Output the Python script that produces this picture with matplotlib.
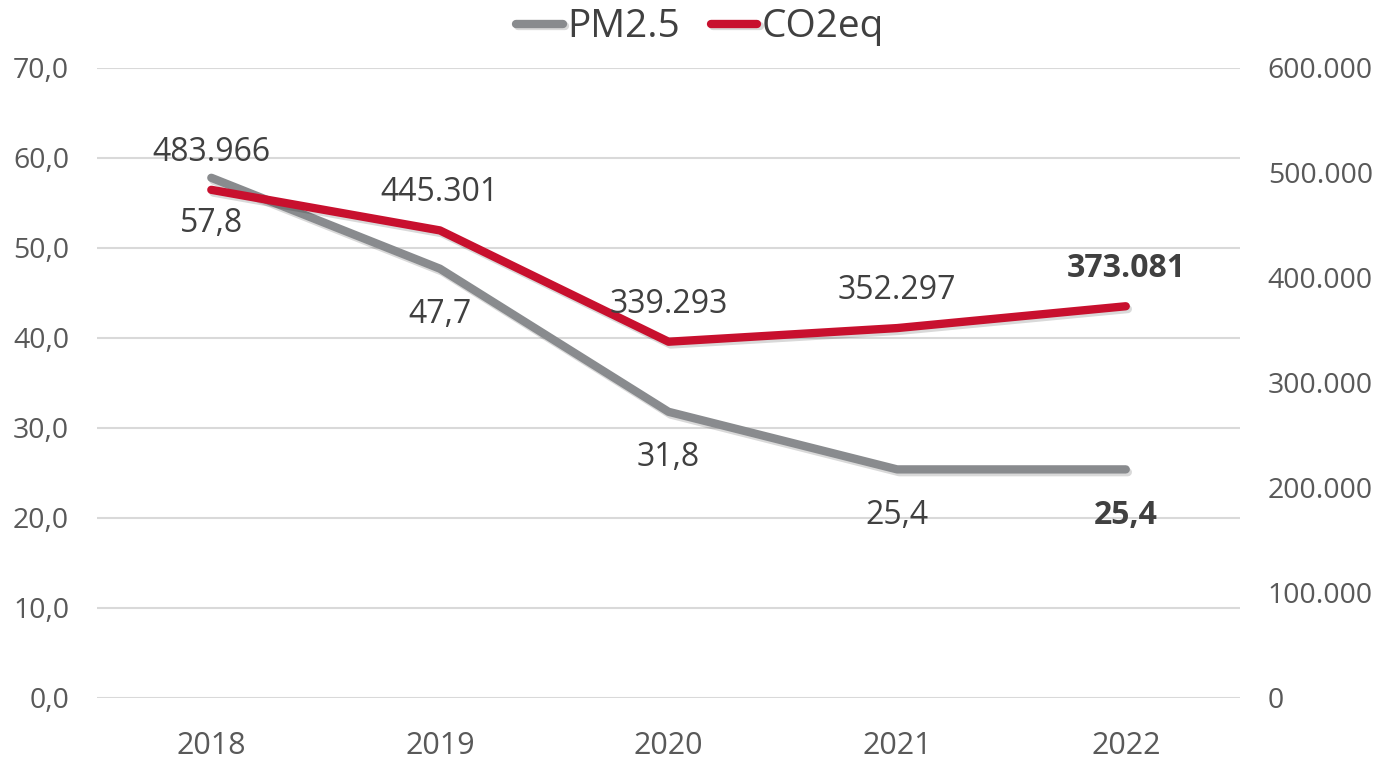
import matplotlib
matplotlib.use("Agg")
import matplotlib.pyplot as plt
import matplotlib.patheffects as pe
from matplotlib.ticker import FuncFormatter, MultipleLocator

plt.rcParams['font.family'] = ['Open Sans', 'DejaVu Sans']

years = ['2018', '2019', '2020', '2021', '2022']
pm25 = [57.8, 47.7, 31.8, 25.4, 25.4]
co2eq = [483966, 445301, 339293, 352297, 373081]

gray = '#898B8E'
red = '#C8102E'
tick_col = '#595959'
lab_col = '#404040'

fig = plt.figure(figsize=(13.78, 7.63), dpi=100)
ax = fig.add_axes([0.0704, 0.0852, 0.8295, 0.8257])
ax2 = ax.twinx()

x = range(len(years))
shadow = [pe.SimpleLineShadow(offset=(1.5, -2), shadow_color='black', alpha=0.15), pe.Normal()]
l1, = ax.plot(x, pm25, color=gray, lw=6, solid_capstyle='round', path_effects=shadow, label='PM2.5')
l2, = ax2.plot(x, co2eq, color=red, lw=6, solid_capstyle='round', path_effects=shadow, label='CO2eq')

ax.set_ylim(0, 70)
ax2.set_ylim(0, 600000)
ax.set_xlim(-0.5, 4.5)
ax.yaxis.set_major_locator(MultipleLocator(10))
ax2.yaxis.set_major_locator(MultipleLocator(100000))
ax.yaxis.set_major_formatter(FuncFormatter(lambda v, p: f'{v:.1f}'.replace('.', ',')))
ax2.yaxis.set_major_formatter(FuncFormatter(lambda v, p: f'{int(v):,}'.replace(',', '.')))
ax.set_xticks(list(x))
ax.set_xticklabels(years)

ax.grid(axis='y', color='#D9D9D9', lw=1.5)
ax.set_axisbelow(True)
for a in (ax, ax2):
    for s in a.spines.values():
        s.set_visible(False)
    a.tick_params(length=0, colors=tick_col)
ax.tick_params(axis='y', labelsize=20.5, pad=20)
ax2.tick_params(axis='y', labelsize=20.5, pad=20)
ax.tick_params(axis='x', labelsize=22, pad=24)

for i, v in enumerate(pm25):
    bold = i == len(pm25) - 1
    ax.annotate(f'{v:.1f}'.replace('.', ','), (i, v), xytext=(0, -33), textcoords='offset points',
                ha='center', va='center', fontsize=23, color=lab_col,
                fontweight='bold' if bold else 'normal')
for i, v in enumerate(co2eq):
    bold = i == len(co2eq) - 1
    ax2.annotate(f'{v:,}'.replace(',', '.'), (i, v), xytext=(0, 27), textcoords='offset points',
                 ha='center', va='center', fontsize=23, color=lab_col,
                 fontweight='bold' if bold else 'normal')

leg = fig.legend(handles=[l1, l2], loc='upper center', bbox_to_anchor=(0.508, 1.035), ncol=2,
                 frameon=False, fontsize=28, handlelength=1.2, handletextpad=0.1, columnspacing=0.8)
for t in leg.get_texts():
    t.set_color(lab_col)

fig.savefig('out.png', dpi=100)
